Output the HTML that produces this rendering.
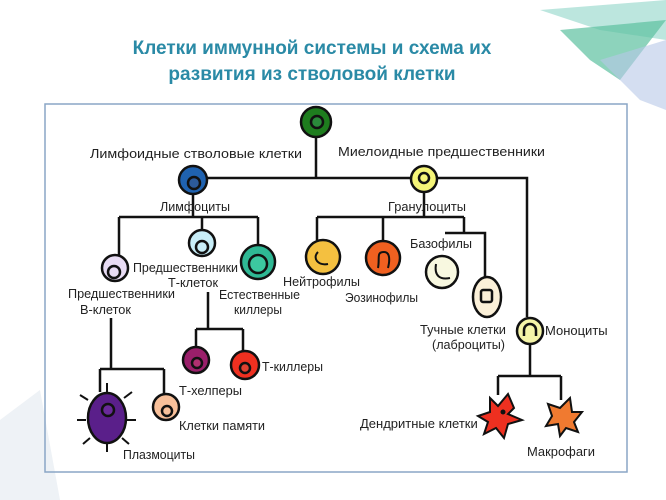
<!DOCTYPE html>
<html><head><meta charset="utf-8"><style>
body{margin:0;width:666px;height:500px;background:#fff;overflow:hidden;font-family:"Liberation Sans",sans-serif}
svg{position:absolute;left:0;top:0}
text{font-family:"Liberation Sans","DejaVu Sans",sans-serif;font-size:13px;fill:#222}
</style></head><body>
<svg width="666" height="500" viewBox="0 0 666 500">
<polygon points="540,10 666,0 666,40 600,30" fill="#9fdcd0" opacity="0.7"/>
<polygon points="560,30 666,20 620,80 590,60" fill="#5cc0a0" opacity="0.7"/>
<polygon points="600,60 666,40 666,110 640,100" fill="#b8c8e8" opacity="0.6"/>
<polygon points="0,420 40,390 60,500 0,500" fill="#eef2f6"/>
<text x="312" y="54" text-anchor="middle" style="font-size:19px;font-weight:bold;fill:#2a8aa6">Клетки иммунной системы и схема их</text>
<text x="312" y="80" text-anchor="middle" style="font-size:19px;font-weight:bold;fill:#2a8aa6">развития из стволовой клетки</text>
<rect x="45" y="104" width="582" height="368" fill="none" stroke="#8aa6c6" stroke-width="1.5"/>
<g stroke="#111" stroke-width="2.5" fill="none">
<path d="M316,136V178M207,178H527V317M193,194V217M119,217H258M119,217V255M202,217V230M258,217V245M424,192V217M317,217H464M317,217V240M383,217V242M464,217V233M445,233H485V277"/>
<path d="M208,292V329M196,329H243M196,329V347M243,329V352"/>
<path d="M111,318V369M100,369H164M100,369V392M164,369V394"/>
<path d="M530,345V376M498,376H561M498,376V395M561,376V400"/>
</g>
<g stroke="#111" stroke-width="2.5">
<circle cx="316" cy="122" r="15" fill="#1e7d1e"/><circle cx="317" cy="122" r="6" fill="#2a8a3a"/>
<circle cx="193" cy="180" r="14" fill="#1f62b0"/><circle cx="194" cy="183" r="6" fill="#2c5a9a"/>
<circle cx="424" cy="179" r="13" fill="#f5f578"/><circle cx="424" cy="178" r="5" fill="#f5f578"/>
<circle cx="202" cy="243" r="13" fill="#c8eef8"/><circle cx="202" cy="247" r="6" fill="#c8eef8"/>
<circle cx="258" cy="262" r="17" fill="#2fb894"/><circle cx="258" cy="264" r="9" fill="#3cc8a0"/>
<circle cx="115" cy="268" r="13" fill="#e8dcf4"/><circle cx="114" cy="272" r="6" fill="#e8dcf4"/>
<circle cx="323" cy="257" r="17" fill="#f4c040"/>
<circle cx="383" cy="258" r="17" fill="#f06020"/>
<circle cx="442" cy="272" r="16" fill="#f8f8e0"/>
<ellipse cx="487" cy="297" rx="14" ry="20" fill="#fbf0d8"/><rect x="481" y="290" width="11" height="12" rx="2" fill="none"/>
<circle cx="530" cy="331" r="13" fill="#f5f5a8"/><path d="M524,336V330a6,6 0 0 1 12,0V336" fill="none"/>
<circle cx="196" cy="360" r="13" fill="#9a1f6a"/><circle cx="197" cy="363" r="5" fill="#b03070"/>
<circle cx="245" cy="365" r="14" fill="#ee3020"/><circle cx="245" cy="368" r="5" fill="#e04030"/>
<circle cx="166" cy="407" r="13" fill="#f8c09a"/><circle cx="167" cy="411" r="5" fill="#f8c09a"/>
<ellipse cx="107" cy="418" rx="19" ry="25" fill="#5a1f8a"/><circle cx="108" cy="410" r="6" fill="#6a2a9a"/>
</g>
<g stroke="#111" stroke-width="2" fill="none">
<path d="M318,252c-6,6 0,14 10,12" /><path d="M378,268c2,-10 -2,-16 6,-16c6,0 6,8 4,16"/><path d="M436,264c-2,12 4,16 14,14"/>
<path d="M88,400l-8,-5M86,420h-9M90,438l-7,6M107,393v-10M124,398l8,-6M127,420h9M122,438l7,6M107,443v9"/>
</g>
<g stroke="#111" stroke-width="2">
<path d="M490,398l8,8l10,-12l6,14l-6,6l14,6l-14,4l-4,14l-8,-10l-12,6l4,-12l-10,-6l12,-4z" fill="#ee3020"/>
<path d="M548,404l12,4l10,-10l2,14l10,0l-8,10l4,10l-12,-4l-6,8l-2,-12l-12,2l6,-10z" fill="#f07a30"/>
</g>
<circle cx="503" cy="412" r="2.5" fill="#111"/>
<text x="90" y="158" textLength="212" lengthAdjust="spacingAndGlyphs">Лимфоидные стволовые клетки</text>
<text x="338" y="156" textLength="207" lengthAdjust="spacingAndGlyphs">Миелоидные предшественники</text>
<text x="160" y="211" textLength="70" lengthAdjust="spacingAndGlyphs">Лимфоциты</text>
<text x="388" y="211" textLength="78" lengthAdjust="spacingAndGlyphs">Гранулоциты</text>
<text x="133" y="272" textLength="105" lengthAdjust="spacingAndGlyphs">Предшественники</text>
<text x="168" y="287" textLength="50" lengthAdjust="spacingAndGlyphs">Т-клеток</text>
<text x="68" y="298" textLength="107" lengthAdjust="spacingAndGlyphs">Предшественники</text>
<text x="80" y="314" textLength="51" lengthAdjust="spacingAndGlyphs">В-клеток</text>
<text x="219" y="299" textLength="81" lengthAdjust="spacingAndGlyphs">Естественные</text>
<text x="234" y="314" textLength="48" lengthAdjust="spacingAndGlyphs">киллеры</text>
<text x="283" y="286" textLength="77" lengthAdjust="spacingAndGlyphs">Нейтрофилы</text>
<text x="345" y="302" textLength="73" lengthAdjust="spacingAndGlyphs">Эозинофилы</text>
<text x="410" y="248" textLength="62" lengthAdjust="spacingAndGlyphs">Базофилы</text>
<text x="420" y="334" textLength="86" lengthAdjust="spacingAndGlyphs">Тучные клетки</text>
<text x="432" y="349" textLength="73" lengthAdjust="spacingAndGlyphs">(лаброциты)</text>
<text x="545" y="335">Моноциты</text>
<text x="262" y="371" textLength="61" lengthAdjust="spacingAndGlyphs">Т-киллеры</text>
<text x="179" y="395" textLength="63" lengthAdjust="spacingAndGlyphs">Т-хелперы</text>
<text x="179" y="430" textLength="86" lengthAdjust="spacingAndGlyphs">Клетки памяти</text>
<text x="123" y="459" textLength="72" lengthAdjust="spacingAndGlyphs">Плазмоциты</text>
<text x="360" y="428">Дендритные клетки</text>
<text x="527" y="456" textLength="68" lengthAdjust="spacingAndGlyphs">Макрофаги</text>
</svg>
</body></html>
